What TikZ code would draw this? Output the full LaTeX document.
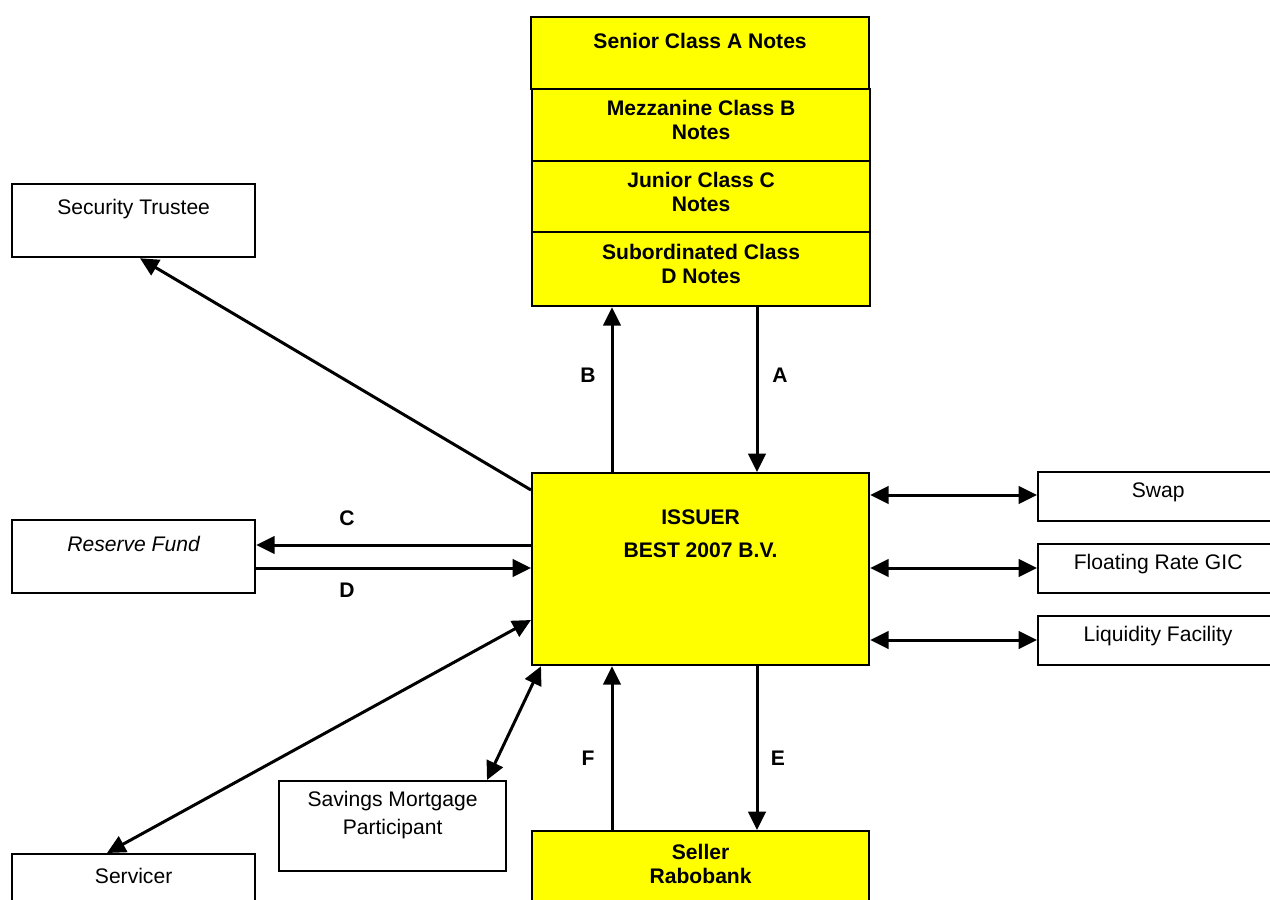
\documentclass[tikz,border=0pt]{standalone}
\usepackage{fontspec}
\setmainfont{Liberation Sans}
\usetikzlibrary{arrows.meta}
\definecolor{noteyellow}{RGB}{255, 255, 0}

\begin{document}
\begin{tikzpicture}[x=0.02cm, y=-0.02cm,
    sidebox/.style={draw=black, line width=1.3pt, fill=white, anchor=north west, inner sep=0pt, align=center, font=\fontsize{12}{13.7}\selectfont},
    yellowbox/.style={sidebox, fill=noteyellow, font=\fontsize{12}{13.7}\selectfont\bfseries},
    arrow/.style={-{Triangle[length=10.5pt, width=10pt]}, line width=1.7pt, black},
    dblarrow/.style={{Triangle[length=10.5pt, width=10pt]}-{Triangle[length=10.5pt, width=10pt]}, line width=1.7pt, black},
    lbl/.style={font=\fontsize{12}{14}\selectfont\bfseries}
]
    \clip (0,0) rectangle (1270,899);
    \fill[white] (0,0) rectangle (1270,899);

    % Notes
    \node (seniorA) [yellowbox, minimum width=6.76cm, minimum height=1.44cm, text depth=14pt] at (530,16) {Senior Class A Notes};
    \node (mezzB) [yellowbox, minimum width=6.76cm, minimum height=1.44cm, text depth=6pt] at (531,88) {Mezzanine Class B\\Notes};
    \node (juniorC) [yellowbox, minimum width=6.76cm, minimum height=1.42cm, text depth=5pt] at (531,160) {Junior Class C\\Notes};
    \node (subD) [yellowbox, minimum width=6.76cm, minimum height=1.48cm, text depth=6pt] at (531,231) {Subordinated Class\\D Notes};

    % Issuer and seller
    \node (issuer) [yellowbox, minimum width=6.74cm, minimum height=3.84cm, text depth=40pt] at (531,472) {ISSUER\\[5pt]BEST 2007 B.V.};
    \node (seller) [yellowbox, minimum width=6.74cm, minimum height=2cm, text depth=20pt] at (531,830) {Seller\\Rabobank};

    % Parties
    \node (trustee) [sidebox, minimum width=4.86cm, minimum height=1.46cm, text depth=16pt] at (11,183) {Security Trustee};
    \node (reserve) [sidebox, minimum width=4.86cm, minimum height=1.46cm, text depth=14pt] at (11,519) {\itshape Reserve Fund};
    \node (servicer) [sidebox, minimum width=4.86cm, minimum height=2cm, text depth=32pt] at (11,853) {Servicer};
    \node (savings) [sidebox, minimum width=4.54cm, minimum height=1.8cm, text depth=15pt] at (278,780) {Savings Mortgage\\[2pt]Participant};
    \node (swap) [sidebox, minimum width=4.8cm, minimum height=0.98cm, text depth=7.5pt] at (1037,471) {Swap};
    \node (gic) [sidebox, minimum width=4.8cm, minimum height=0.98cm, text depth=7.5pt] at (1037,543) {Floating Rate GIC};
    \node (liquidity) [sidebox, minimum width=4.8cm, minimum height=0.98cm, text depth=7.5pt] at (1037,615) {Liquidity Facility};

    % Arrows
    \draw [arrow] (issuer.north -| 612,0) -- (subD.south -| 612,0);
    \draw [arrow] (subD.south -| 757,0) -- (issuer.north -| 757,0);
    \draw [arrow] (issuer.west |- 0,490) -- (trustee.south -| 140,0);
    \draw [arrow] (issuer.west |- 0,545) -- (reserve.east |- 0,545);
    \draw [arrow] (reserve.east |- 0,568) -- (issuer.west |- 0,568);
    \draw [dblarrow] (issuer.west |- 0,620) -- (servicer.north -| 107,0);
    \draw [dblarrow] (issuer.south -| 541,0) -- (savings.north -| 487,0);
    \draw [arrow] (seller.north -| 612,0) -- (issuer.south -| 612,0);
    \draw [arrow] (issuer.south -| 757,0) -- (seller.north -| 757,0);
    \draw [dblarrow] (issuer.east |- 0,495) -- (swap.west |- 0,495);
    \draw [dblarrow] (issuer.east |- 0,568) -- (gic.west |- 0,568);
    \draw [dblarrow] (issuer.east |- 0,640) -- (liquidity.west |- 0,640);

    % Labels
    \node (labB) [lbl] at (588,375) {B};
    \node (labA) [lbl] at (780,375) {A};
    \node (labC) [lbl] at (347,518) {C};
    \node (labD) [lbl] at (347,590) {D};
    \node (labF) [lbl] at (588,758) {F};
    \node (labE) [lbl] at (778,758) {E};
\end{tikzpicture}
\end{document}
